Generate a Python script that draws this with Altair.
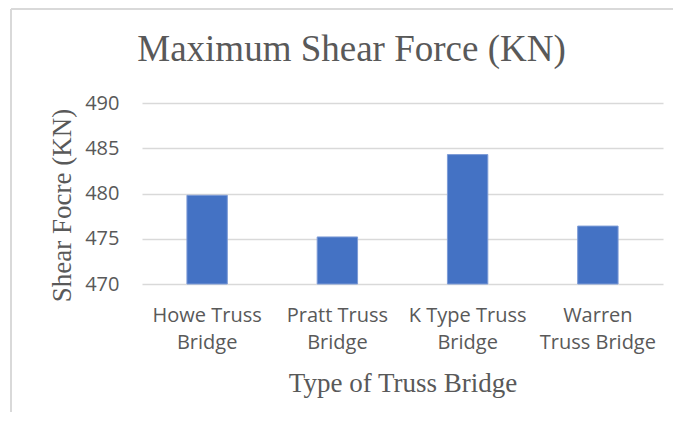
import altair as alt
import pandas as pd

# Data
bridges = ["Howe Truss Bridge", "Pratt Truss Bridge", "K Type Truss Bridge", "Warren Truss Bridge"]
label_lines = [["Howe Truss", "Bridge"], ["Pratt Truss", "Bridge"], ["K Type Truss", "Bridge"], ["Warren", "Truss Bridge"]]
shear_force = [479.8, 475.2, 484.3, 476.4]
y_ticks = [470, 475, 480, 485, 490]

df = pd.DataFrame({"bridge": bridges, "force": shear_force})

label_map = "{" + ", ".join(
    "'" + b + "': [" + ", ".join("'" + s + "'" for s in lines) + "]"
    for b, lines in zip(bridges, label_lines)
) + "}"

GRAY = "#595959"
GRID = "#d9d9d9"
SERIF = "Liberation Serif"
SANS = "Open Sans"

bars = alt.Chart(df).mark_bar(color="#4472c4", stroke="#7d9bd6", strokeWidth=1).encode(
    x=alt.X(
        "bridge:N",
        sort=bridges,
        scale=alt.Scale(paddingInner=0.69, paddingOuter=0.345),
        axis=alt.Axis(
            title="Type of Truss Bridge",
            labelAngle=0,
            labelExpr=label_map + "[datum.label]",
            labelFont=SANS,
            labelFontSize=20,
            labelColor=GRAY,
            labelPadding=21,
            labelLineHeight=27,
            labelLimit=0,
            domain=False,
            ticks=False,
            titleFont=SERIF,
            titleFontSize=27,
            titleFontWeight="normal",
            titleColor=GRAY,
            titleBaseline="alphabetic",
            titleY=107,
        ),
    ),
    y=alt.Y(
        "force:Q",
        scale=alt.Scale(domain=[470, 490], zero=False, nice=False),
        axis=alt.Axis(
            title="Shear Focre (KN)",
            values=y_ticks,
            labelFont=SANS,
            labelFontSize=20,
            labelColor=GRAY,
            labelPadding=23,
            domain=False,
            ticks=False,
            gridColor=GRID,
            gridWidth=1.5,
            titleFont=SERIF,
            titleFontSize=27,
            titleFontWeight="normal",
            titleColor=GRAY,
            titleBaseline="alphabetic",
            titleAlign="center",
            titleX=-72,
            titleY=102,
        ),
    ),
    y2=alt.datum(470),
)

border_df = pd.DataFrame({"k": [0]})
left_border = alt.Chart(border_df).mark_rule(color=GRID, strokeWidth=2).encode(
    x=alt.value(-131), y=alt.value(-94), y2=alt.value(316)
)
top_border = alt.Chart(border_df).mark_rule(color=GRID, strokeWidth=2).encode(
    y=alt.value(-94), x=alt.value(-131), x2=alt.value(531)
)

chart = alt.layer(bars, left_border, top_border).properties(
    width=521,
    height=181,
    background="white",
    autosize=alt.AutoSizeParams(type="none"),
    padding={"left": 134, "top": 95, "right": 10, "bottom": 128},
    title=alt.TitleParams(
        text="Maximum Shear Force (KN)",
        font=SERIF,
        fontSize=37,
        fontWeight="normal",
        color=GRAY,
        anchor="middle",
        frame="group",
        dx=-51,
        dy=90,
        baseline="alphabetic",
        offset=0,
    ),
).configure_view(stroke="transparent", strokeWidth=0)

chart.save("out.html", embed_options={"renderer": "svg", "actions": False})
